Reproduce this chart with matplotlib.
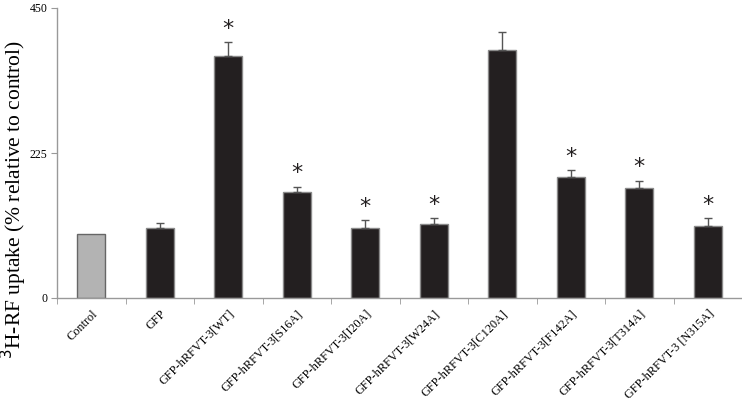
import matplotlib
matplotlib.use("Agg")
import matplotlib.pyplot as plt
import numpy as np

categories = ["Control", "GFP", "GFP-hRFVT-3[WT]", "GFP-hRFVT-3[S16A]", "GFP-hRFVT-3[I20A]",
              "GFP-hRFVT-3[W24A]", "GFP-hRFVT-3[C120A]", "GFP-hRFVT-3[F142A]",
              "GFP-hRFVT-3[T314A]", "GFP-hRFVT-3 [N315A]"]
values = [100, 109, 376, 164, 109, 115, 385, 187, 170, 112]
errors = [0, 8, 21, 9, 12, 9, 28, 12, 12, 12]
significant = [False, False, True, True, True, True, False, True, True, True]
yticks = [0, 225, 450]

plt.rcParams['font.family'] = ['Liberation Serif', 'DejaVu Serif']

fig = plt.figure(figsize=(7.42, 4.01), dpi=100)
ax = fig.add_axes([57/742, 1-298/401, 685/742, 290/401])

x = np.arange(len(categories))
colors = ['#b3b3b3'] + ['#231f20'] * (len(categories) - 1)
edges = ['#666666'] + ['#8a8a8a'] * (len(categories) - 1)
ax.bar(x, values, width=0.41, color=colors, edgecolor=edges, linewidth=1.0, zorder=2)
mask = np.array(errors) > 0
ax.errorbar(x[mask], np.array(values)[mask], yerr=[np.zeros(mask.sum()), np.array(errors)[mask]],
            fmt='none', ecolor='#555555', elinewidth=1.0, capsize=3, capthick=1.0, zorder=3)
for xi, v, e, s in zip(x, values, errors, significant):
    if s:
        ax.text(xi, v + e + 5, "*", ha='center', va='bottom', fontsize=16, color='#231f20',
                family='DejaVu Sans')

ax.set_xlim(-0.5, len(categories) - 0.5)
ax.set_ylim(0, 450)
ax.set_yticks(yticks)
ax.set_yticklabels([str(t) for t in yticks], fontsize=8.5)
ax.set_xticks(x)
ax.set_xticklabels(categories, rotation=45, ha='right', rotation_mode='anchor', fontsize=8.8)
ax.tick_params(axis='x', which='major', length=0, pad=7)
ax.set_xticks(np.arange(-0.5, len(categories), 1.0), minor=True)
ax.tick_params(axis='x', which='minor', length=4, color='#999999', direction='out')
ax.tick_params(axis='y', length=4, color='#999999', direction='out', pad=3)

for side in ['top', 'right']:
    ax.spines[side].set_visible(False)
for side in ['left', 'bottom']:
    ax.spines[side].set_color('#999999')
    ax.spines[side].set_linewidth(1.0)

fig.text(14/742, 1-200/401, r"$^{3}$H-RF uptake (% relative to control)", fontsize=15.5,
         rotation=90, ha='center', va='center')

fig.savefig("out.png", dpi=100)
